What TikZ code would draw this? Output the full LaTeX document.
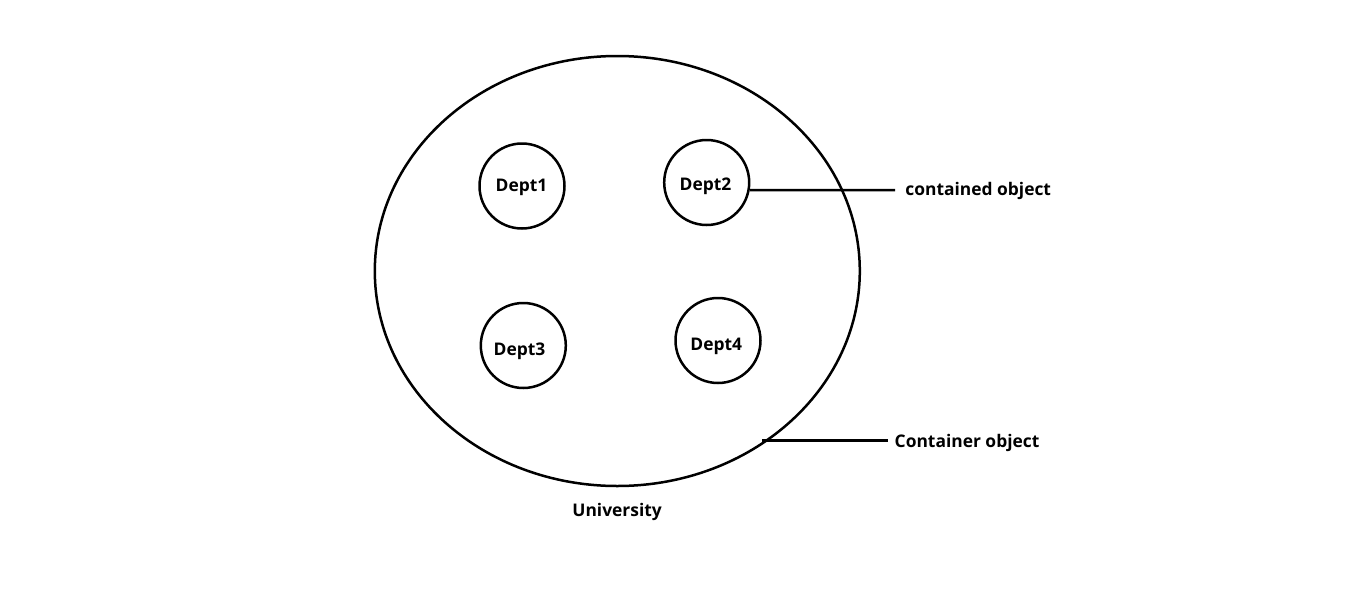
\documentclass[tikz,border=0pt]{standalone}
\usepackage{fontspec}
\setmainfont{Open Sans}
\usetikzlibrary{shapes.geometric}
\tikzset{
  ln/.style={line width=2.5pt, black},
  dept/.style={draw, circle, line width=2.5pt, minimum size=85pt, inner sep=0pt},
  lbl/.style={anchor=base west, inner sep=0pt, font=\fontsize{17.4}{20}\selectfont\bfseries}
}
\begin{document}
\begin{tikzpicture}[x=1pt,y=-1pt]
\useasboundingbox (0,0) rectangle (1360,613);
\fill[white] (0,0) rectangle (1360,613);
\node[draw, ellipse, line width=2.5pt, minimum width=485pt, minimum height=430pt, inner sep=0pt] (uni) at (617.3,271) {};
\node[dept] (d1) at (522,186) {};
\node[dept] (d2) at (706.7,182.5) {};
\node[dept] (d3) at (523.3,345.5) {};
\node[dept] (d4) at (718,340.5) {};
\node[lbl] (t1) at (495.5,191.7) {Dept1};
\node[lbl] (t2) at (679.5,190) {Dept2};
\node[lbl] (t3) at (493.5,355.7) {Dept3};
\node[lbl] (t4) at (690.2,350) {Dept4};
\node[lbl] (cl) at (905.2,195.7) {contained object};
\node[lbl] (crl) at (894.5,447.7) {Container object};
\node[lbl] (ul) at (572.2,516.7) {University};
\coordinate (c1) at (895,190);
\coordinate (c2a) at (762,440.5);
\coordinate (c2b) at (888,440.5);
\draw[ln] (d2.-10) -- (c1);
\draw[ln] (c2a) -- (c2b);
\end{tikzpicture}
\end{document}
